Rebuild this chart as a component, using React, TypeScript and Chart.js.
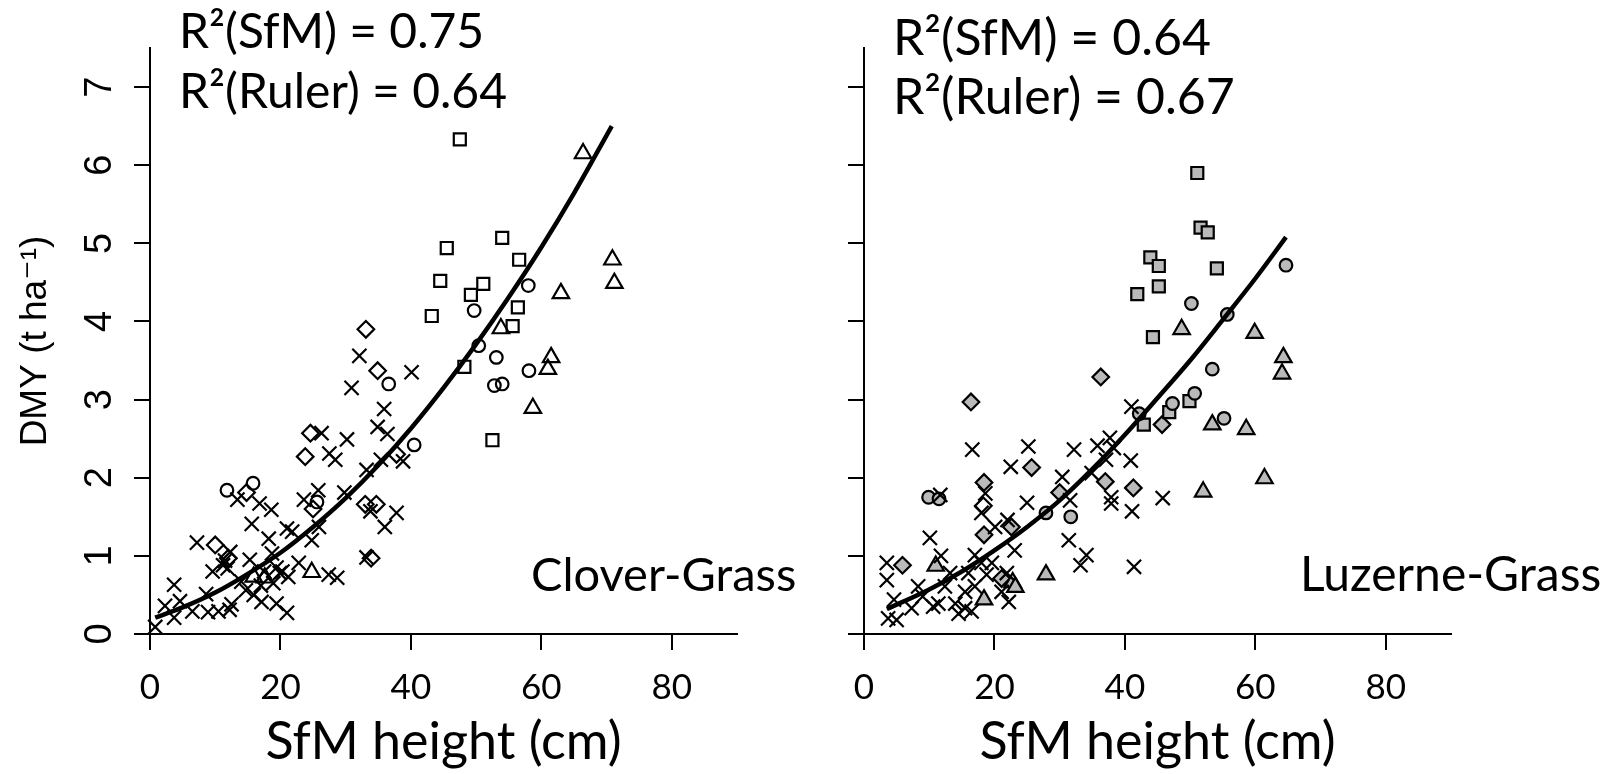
import React, { useEffect, useRef } from 'react';
import { Chart, registerables } from 'chart.js';

Chart.register(...registerables);

type Pt = [number, number];

// ---- tick labels ----
const xTickValues = [0, 20, 40, 60, 80];
const yTickValues = [0, 1, 2, 3, 4, 5, 6, 7];

// ---- Clover-Grass (left panel) ----
const cloverCross: Pt[] = [
  [0.8, 0.09], [2.3, 0.36], [3.7, 0.63], [3.7, 0.21], [4.6, 0.42], [6.5, 0.29], [7.2, 1.17],
  [8.6, 0.51], [8.9, 0.28], [9.6, 0.8], [10.5, 0.29], [11.2, 0.88], [11.5, 0.94], [11.9, 0.84],
  [12.3, 1.05], [12.2, 0.31], [12.5, 0.38], [13.4, 1.72], [14.0, 0.67], [14.7, 0.56], [15.3, 0.95],
  [15.6, 1.41], [15.9, 0.5], [16.8, 1.67], [17.1, 0.41], [17.0, 0.62], [17.5, 0.8], [18.2, 1.22],
  [18.6, 1.59], [18.7, 1.03], [18.9, 0.65], [19.4, 0.39], [19.4, 0.85], [19.9, 0.78], [20.3, 0.8],
  [21.0, 0.27], [21.0, 1.35], [21.2, 0.73], [21.8, 1.31], [22.8, 0.91], [23.6, 1.72], [24.8, 1.2],
  [25.8, 1.84], [25.9, 1.37], [26.3, 2.57], [27.5, 2.31], [27.4, 0.76], [28.4, 2.23], [28.7, 0.72],
  [29.8, 1.81], [30.2, 2.49], [30.9, 3.15], [32.1, 3.56], [33.2, 2.1], [33.2, 0.98], [33.8, 1.57],
  [34.9, 2.65], [35.4, 2.23], [35.9, 2.88], [36.0, 1.37], [36.4, 2.56], [37.8, 1.55], [38.8, 2.21],
  [40.1, 3.35],
];
const cloverCircle: Pt[] = [
  [11.8, 1.84], [15.8, 1.93], [25.6, 1.69], [36.6, 3.2], [40.5, 2.42], [49.7, 4.14], [50.4, 3.69],
  [52.8, 3.18], [53.1, 3.54], [54.0, 3.2], [58.0, 4.46], [58.1, 3.37],
];
const cloverSquare: Pt[] = [
  [43.2, 4.07], [44.5, 4.52], [45.5, 4.94], [47.5, 6.33], [48.2, 3.42], [49.2, 4.34], [51.1, 4.48],
  [52.5, 2.48], [54.0, 5.07], [55.6, 3.94], [56.4, 4.18], [56.6, 4.79],
];
const cloverTriangle: Pt[] = [
  [15.9, 0.73], [17.6, 0.72], [24.8, 0.79], [53.8, 3.91], [58.7, 2.89], [61.0, 3.39], [61.5, 3.54],
  [63.0, 4.36], [66.4, 6.15], [70.9, 4.79], [71.2, 4.49],
];
const cloverDiamond: Pt[] = [
  [10.0, 1.14], [12.0, 0.97], [14.8, 1.81], [23.8, 2.27], [24.6, 2.57], [25.0, 1.6], [33.0, 1.66],
  [33.1, 3.9], [33.9, 0.97], [34.7, 1.66], [34.9, 3.37], [37.8, 2.3],
];
const cloverFitX = [0.8, 5, 10, 15, 20, 25, 30, 35, 40, 45, 50, 55, 60, 65, 70.8];
const cloverFitY = [0.21, 0.34, 0.53, 0.77, 1.04, 1.37, 1.74, 2.16, 2.63, 3.15, 3.71, 4.31, 4.95, 5.64, 6.5];

// ---- Luzerne-Grass (right panel) ----
const luzerneCross: Pt[] = [
  [3.5, 0.91], [3.5, 0.69], [3.7, 0.2], [4.6, 0.44], [5.0, 0.18], [7.3, 0.33], [8.3, 0.61],
  [9.0, 0.48], [10.1, 1.23], [10.6, 0.35], [11.4, 0.39], [11.7, 1.78], [11.8, 1.0], [12.4, 0.61],
  [13.2, 0.78], [14.0, 0.39], [14.5, 0.26], [15.5, 0.33], [15.5, 0.54], [16.0, 0.78], [16.5, 0.29],
  [16.6, 2.36], [17.0, 1.01], [17.0, 0.61], [18.0, 1.55], [18.0, 0.91], [18.6, 1.8], [18.8, 0.76],
  [19.6, 0.91], [20.1, 1.37], [21.1, 0.54], [21.9, 0.78], [22.0, 1.46], [22.2, 0.41], [22.5, 2.14],
  [23.1, 1.07], [25.0, 1.68], [25.2, 2.4], [30.4, 2.01], [31.6, 1.71], [31.4, 1.2], [32.2, 2.36],
  [33.2, 0.88], [34.1, 1.01], [34.9, 2.06], [35.8, 2.41], [37.1, 2.23], [37.7, 2.51], [37.9, 1.67],
  [37.9, 1.75], [38.3, 2.38], [40.9, 2.22], [41.0, 2.91], [41.1, 1.57], [41.4, 0.86], [45.8, 1.74],
];
const luzerneCircle: Pt[] = [
  [9.9, 1.75], [11.5, 1.73], [27.9, 1.55], [31.7, 1.5], [42.2, 2.82], [47.3, 2.95], [50.2, 4.23],
  [50.7, 3.08], [53.4, 3.39], [55.2, 2.76], [55.7, 4.09], [64.7, 4.72],
];
const luzerneSquare: Pt[] = [
  [41.9, 4.35], [42.9, 2.68], [43.9, 4.82], [44.3, 3.8], [45.2, 4.71], [45.2, 4.45], [46.8, 2.84],
  [49.9, 2.98], [51.1, 5.9], [51.6, 5.2], [52.7, 5.14], [54.1, 4.68],
];
const luzerneTriangle: Pt[] = [
  [11.0, 0.87], [18.4, 0.44], [22.8, 0.66], [23.2, 0.6], [27.9, 0.76], [48.7, 3.9], [52.0, 1.82],
  [53.4, 2.68], [58.6, 2.62], [59.9, 3.85], [61.4, 1.99], [64.1, 3.33], [64.3, 3.54],
];
const luzerneDiamond: Pt[] = [
  [5.9, 0.88], [16.4, 2.97], [18.4, 1.94], [18.4, 1.27], [21.1, 0.71], [22.6, 1.37], [25.7, 2.13],
  [30.0, 1.81], [36.3, 3.29], [37.0, 1.95], [41.3, 1.87], [45.7, 2.68],
];
const luzerneDiamondOpen: Pt[] = [[18.3, 1.64]];
const luzerneFitX = [3.5, 10, 15, 20, 25, 30, 35, 40, 45, 50, 55, 60, 64.7];
const luzerneFitY = [0.32, 0.57, 0.8, 1.07, 1.37, 1.71, 2.11, 2.55, 3.02, 3.5, 4.02, 4.55, 5.08];

const GRAY = '#bababa';
const NONE = 'rgba(0,0,0,0)';

type TextItem = { text: string; x: number; y: number; size: number };

const panelTextPlugin = {
  id: 'panelText',
  afterDraw(chart: any, _args: any, opts: any) {
    const ctx = chart.ctx as CanvasRenderingContext2D;
    ctx.save();
    ctx.fillStyle = '#000';
    ctx.textAlign = 'left';
    ctx.textBaseline = 'alphabetic';
    for (const t of (opts.items || []) as TextItem[]) {
      ctx.font = `${t.size}px Lato, "Open Sans", sans-serif`;
      ctx.fillText(t.text, t.x, t.y);
    }
    ctx.restore();
  },
};

function markerSet(pts: Pt[], style: string, radius: number, fill: string) {
  return {
    data: pts.map(([x, y]) => ({ x, y })),
    pointStyle: style,
    pointRadius: radius,
    pointHoverRadius: radius,
    pointBorderWidth: 2.2,
    pointHoverBorderWidth: 2.2,
    pointBorderColor: '#000',
    pointBackgroundColor: fill,
    showLine: false,
    clip: false as any,
    order: 2,
  };
}

function fitSet(xs: number[], ys: number[]) {
  return {
    data: xs.map((x, i) => ({ x, y: ys[i] })),
    showLine: true,
    borderColor: '#000',
    borderWidth: 4.5,
    pointRadius: 0,
    pointHoverRadius: 0,
    cubicInterpolationMode: 'monotone',
    fill: false,
    clip: false as any,
    order: 0,
  };
}

type PanelProps = {
  left: number;
  width: number;
  yAxisWidth: number;
  padRight: number;
  showYLabels: boolean;
  datasets: any[];
  texts: TextItem[];
};

function Panel(p: PanelProps) {
  const ref = useRef<HTMLCanvasElement | null>(null);
  useEffect(() => {
    if (!ref.current) return;
    const axisGrid = {
      display: true,
      drawOnChartArea: false,
      drawTicks: true,
      tickLength: 16,
      color: '#000',
      lineWidth: 2,
    };
    const axisBorder = { display: true, color: '#000', width: 2 };
    const chart = new Chart(ref.current, {
      type: 'scatter',
      data: { datasets: p.datasets },
      plugins: [panelTextPlugin as any],
      options: {
        responsive: false,
        animation: false,
        devicePixelRatio: 1,
        events: [],
        layout: { padding: { left: 0, right: p.padRight, top: 48, bottom: 0 } },
        plugins: {
          legend: { display: false },
          tooltip: { enabled: false },
          panelText: { items: p.texts },
        } as any,
        scales: {
          x: {
            type: 'linear',
            min: 0,
            max: 90,
            afterBuildTicks: (s: any) => {
              s.ticks = xTickValues.map((v) => ({ value: v }));
            },
            afterFit: (s: any) => {
              s.height = 140;
            },
            grid: axisGrid,
            border: axisBorder,
            ticks: {
              color: '#000',
              font: { family: 'Lato', size: 35 },
              padding: 17,
              maxRotation: 0,
              autoSkip: false,
            },
            title: {
              display: true,
              text: 'SfM height (cm)',
              color: '#000',
              font: { family: 'Lato', size: 52, lineHeight: 1.2 },
              padding: { top: 0, bottom: 1 },
            },
          },
          y: {
            type: 'linear',
            min: 0,
            max: 7.5,
            afterBuildTicks: (s: any) => {
              s.ticks = yTickValues.map((v) => ({ value: v }));
            },
            afterFit: (s: any) => {
              s.width = p.yAxisWidth;
            },
            grid: axisGrid,
            border: axisBorder,
            ticks: {
              display: p.showYLabels,
              color: '#000',
              font: { family: '"Liberation Sans", Arial, sans-serif', size: 38 },
              minRotation: 90,
              maxRotation: 90,
              crossAlign: 'center',
              padding: 23,
            },
            title: {
              display: p.showYLabels,
              text: 'DMY (t ha⁻¹)',
              color: '#000',
              font: { family: '"Liberation Sans", "DejaVu Sans", sans-serif', size: 37, lineHeight: 1.2 },
              padding: { top: 14, bottom: 0 },
            },
          },
        },
      } as any,
    });
    return () => chart.destroy();
  }, []);
  return (
    <div style={{ position: 'absolute', left: p.left, top: 0, width: p.width, height: 774 }}>
      <canvas ref={ref} width={p.width} height={774} style={{ display: 'block' }} />
    </div>
  );
}

export default function App() {
  const leftSets = [
    fitSet(cloverFitX, cloverFitY),
    markerSet(cloverCross, 'crossRot', 10, NONE),
    markerSet(cloverCircle, 'circle', 6.3, NONE),
    markerSet(cloverSquare, 'rect', 8.5, NONE),
    markerSet(cloverTriangle, 'triangle', 9.5, NONE),
    markerSet(cloverDiamond, 'rectRot', 8.3, NONE),
  ];
  const rightSets = [
    fitSet(luzerneFitX, luzerneFitY),
    markerSet(luzerneCross, 'crossRot', 10, NONE),
    markerSet(luzerneCircle, 'circle', 6.3, GRAY),
    markerSet(luzerneSquare, 'rect', 8.5, GRAY),
    markerSet(luzerneTriangle, 'triangle', 9.5, GRAY),
    markerSet(luzerneDiamond, 'rectRot', 8.3, GRAY),
    markerSet(luzerneDiamondOpen, 'rectRot', 8.3, NONE),
  ];
  return (
    <div style={{ position: 'fixed', left: 0, top: 0, width: 1616, height: 774, background: '#fff', overflow: 'hidden' }}>
      <Panel
        left={0}
        width={800}
        yAxisWidth={150}
        padRight={63}
        showYLabels={true}
        datasets={leftSets}
        texts={[
          { text: 'R²(SfM) = 0.75', x: 179, y: 48, size: 48 },
          { text: 'R²(Ruler) = 0.64', x: 179, y: 108, size: 48 },
          { text: 'Clover-Grass', x: 531, y: 591, size: 47 },
        ]}
      />
      <Panel
        left={800}
        width={816}
        yAxisWidth={64}
        padRight={165}
        showYLabels={false}
        datasets={rightSets}
        texts={[
          { text: 'R²(SfM) = 0.64', x: 93, y: 55, size: 50 },
          { text: 'R²(Ruler) = 0.67', x: 93, y: 114, size: 50 },
          { text: 'Luzerne-Grass', x: 500, y: 591, size: 48 },
        ]}
      />
    </div>
  );
}
